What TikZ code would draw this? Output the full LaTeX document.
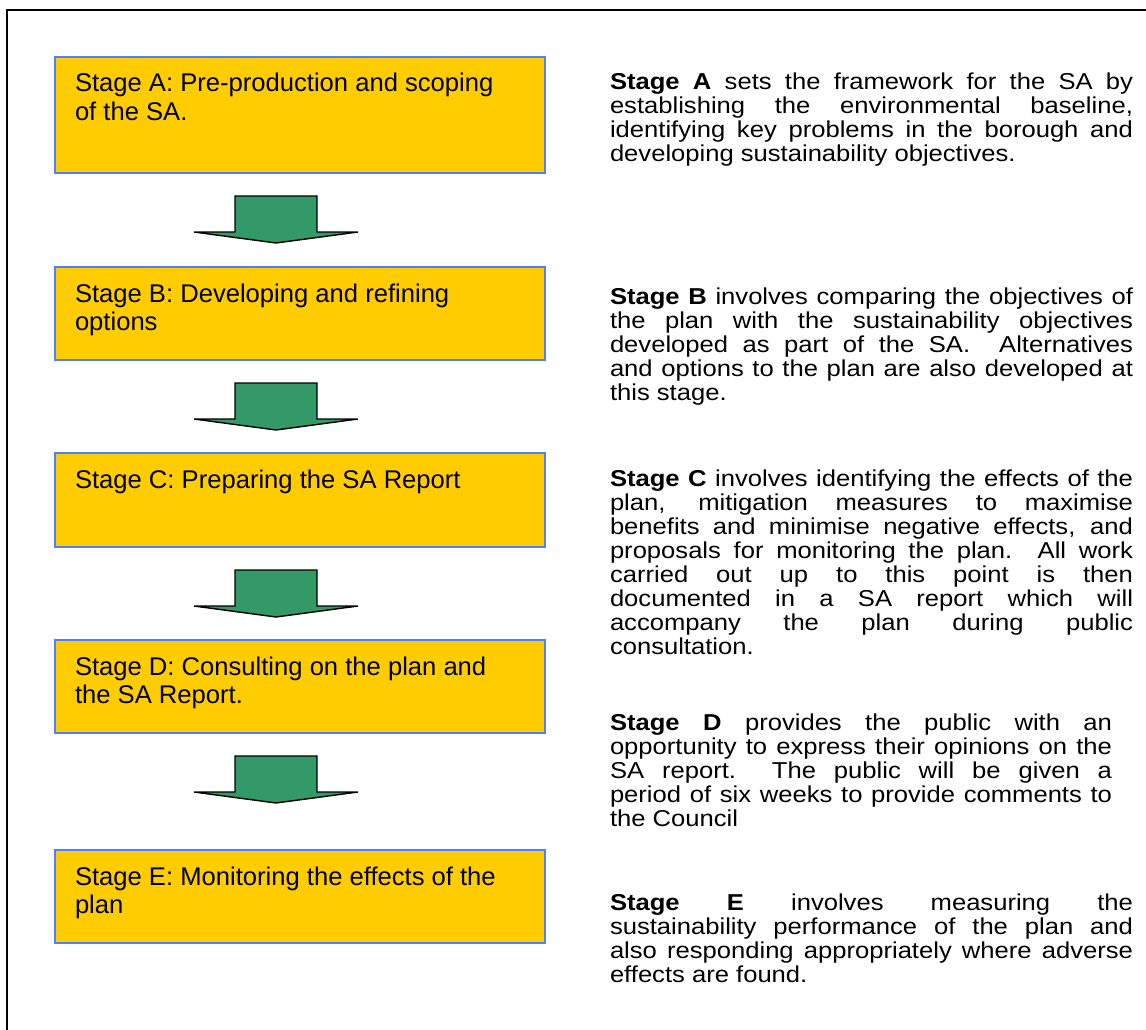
\documentclass[tikz,border=0pt]{standalone}
\usepackage{fontspec}
\usepackage{graphicx}
\setmainfont{Liberation Sans}
\usetikzlibrary{calc}

\definecolor{stagegold}{RGB}{255,204,0}
\definecolor{stageedge}{RGB}{77,128,255}
\definecolor{arrowgreen}{RGB}{51,153,102}

% width of the current note column (before the horizontal stretch)
\newlength\notew
% one fully justified line of a note
\newcommand\jl[1]{\makebox[\notew][s]{#1}}
% text of a stage box: #1 = box height, #2 = lines
\newcommand\stagetext[2]{\parbox[t][#1pt][t]{450pt}{\fontsize{25.6pt}{28.5pt}\selectfont\raggedright\rule{0pt}{35pt}#2}}
% a note paragraph, set a little wide: #1 = column width, #2 = lines
\newcommand\notetext[2]{%
  \setlength\notew{#1pt}\setlength\notew{0.8985\notew}%
  \scalebox{1.113}[1]{\parbox[t]{\notew}{\fontsize{23pt}{24pt}\selectfont\lineskiplimit=-100pt #2}}}

\tikzset{
  stagebox/.style={draw=stageedge, line width=1.5pt, fill=stagegold,
    inner sep=0pt, inner xsep=20pt, outer sep=0pt, anchor=north west},
  note/.style={anchor=base west, inner sep=0pt, outer sep=0pt},
  blockarrow/.style={draw=black, line width=1.4pt, fill=arrowgreen, line join=miter},
  frameline/.style={draw=black, line width=2pt}
}

% down arrow hanging below a stage box
\newcommand\stagearrow[1]{%
  \draw[blockarrow] ($(#1.south)+(-65,23)$) -- ++(82,0) -- ++(0,36) -- ++(41,0)
    -- ++(-82,11) -- ++(-82,-11) -- ++(41,0) -- cycle;}

\begin{document}
\begin{tikzpicture}[x=1pt, y=-1pt]
  \useasboundingbox (0,0) rectangle (1146,1030);
  \fill[white] (0,0) rectangle (1146,1030);

  % outer frame
  \draw[frameline] (7,1031) -- (7,10) -- (1147,10);

  % stage boxes
  \node[stagebox] (sa) at (55,57)  {\stagetext{116}{Stage A: Pre-production and scoping\\of the SA.}};
  \node[stagebox] (sb) at (55,267) {\stagetext{93}{Stage B: Developing and refining\\options}};
  \node[stagebox] (sc) at (55,453) {\stagetext{94}{Stage C: Preparing the SA Report}};
  \node[stagebox] (sd) at (55,640) {\stagetext{93}{Stage D: Consulting on the plan and\\the SA Report.}};
  \node[stagebox] (se) at (55,850) {\stagetext{93}{Stage E: Monitoring the effects of the\\plan}};

  % arrows between the stages
  \stagearrow{sa}
  \stagearrow{sb}
  \stagearrow{sc}
  \stagearrow{sd}

  % descriptions
  \node[note] (na) at (610,90) {\notetext{523}{%
    \jl{\textbf{Stage A} sets the framework for the SA by}\\
    \jl{establishing the environmental baseline,}\\
    \jl{identifying key problems in the borough and}\\
    developing sustainability objectives.}};

  \node[note] (nb) at (610,304) {\notetext{523}{%
    \jl{\textbf{Stage B} involves comparing the objectives of}\\
    \jl{the plan with the sustainability objectives}\\
    \jl{developed as part of the SA.\ \ Alternatives}\\
    \jl{and options to the plan are also developed at}\\
    this stage.}};

  \node[note] (nc) at (610,486) {\notetext{523}{%
    \jl{\textbf{Stage C} involves identifying the effects of the}\\
    \jl{plan, mitigation measures to maximise}\\
    \jl{benefits and minimise negative effects, and}\\
    \jl{proposals for monitoring the plan.\ \ All work}\\
    \jl{carried out up to this point is then}\\
    \jl{documented in a SA report which will}\\
    \jl{accompany the plan during public}\\
    consultation.}};

  \node[note] (nd) at (610,730) {\notetext{502}{%
    \jl{\textbf{Stage D} provides the public with an}\\
    \jl{opportunity to express their opinions on the}\\
    \jl{SA report.\ \ The public will be given a}\\
    \jl{period of six weeks to provide comments to}\\
    the Council}};

  \node[note] (ne) at (610,910) {\notetext{523}{%
    \jl{\textbf{Stage E} involves measuring the}\\
    \jl{sustainability performance of the plan and}\\
    \jl{also responding appropriately where adverse}\\
    effects are found.}};
\end{tikzpicture}
\end{document}
